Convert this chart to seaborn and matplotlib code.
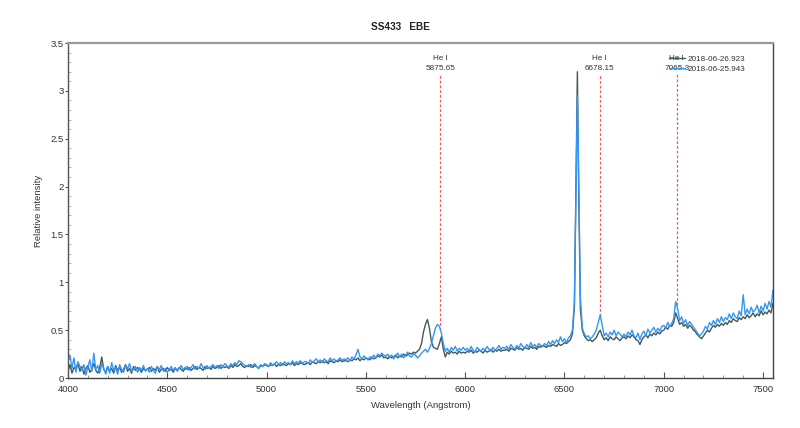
import matplotlib
matplotlib.use("Agg")
import matplotlib.pyplot as plt
import numpy as np
import pandas as pd
import seaborn as sns

# ---------------- data ----------------
wavelength = [
    4000, 4010, 4020, 4030, 4040, 4050, 4060, 4070, 4080, 4090, 4100, 4110, 4120, 4130, 4140, 4150, 4160, 4170, 4180, 4190,
    4200, 4210, 4220, 4230, 4240, 4250, 4260, 4270, 4280, 4290, 4300, 4310, 4320, 4330, 4340, 4350, 4360, 4370, 4380, 4390,
    4400, 4410, 4420, 4430, 4440, 4450, 4460, 4470, 4480, 4490, 4500, 4510, 4520, 4530, 4540, 4550, 4560, 4570, 4580, 4590,
    4600, 4610, 4620, 4630, 4640, 4650, 4660, 4670, 4680, 4690, 4700, 4710, 4720, 4730, 4740, 4750, 4760, 4770, 4780, 4790,
    4800, 4810, 4820, 4830, 4840, 4850, 4860, 4870, 4880, 4890, 4900, 4910, 4920, 4930, 4940, 4950, 4960, 4970, 4980, 4990,
    5000, 5010, 5020, 5030, 5040, 5050, 5060, 5070, 5080, 5090, 5100, 5110, 5120, 5130, 5140, 5150, 5160, 5170, 5180, 5190,
    5200, 5210, 5220, 5230, 5240, 5250, 5260, 5270, 5280, 5290, 5300, 5310, 5320, 5330, 5340, 5350, 5360, 5370, 5380, 5390,
    5400, 5410, 5420, 5430, 5440, 5450, 5460, 5470, 5480, 5490, 5500, 5510, 5520, 5530, 5540, 5550, 5560, 5570, 5580, 5590,
    5600, 5610, 5620, 5630, 5640, 5650, 5660, 5670, 5680, 5690, 5700, 5710, 5720, 5730, 5740, 5750, 5760, 5770, 5780, 5790,
    5800, 5810, 5820, 5830, 5840, 5850, 5860, 5870, 5880, 5890, 5900, 5910, 5920, 5930, 5940, 5950, 5960, 5970, 5980, 5990,
    6000, 6010, 6020, 6030, 6040, 6050, 6060, 6070, 6080, 6090, 6100, 6110, 6120, 6130, 6140, 6150, 6160, 6170, 6180, 6190,
    6200, 6210, 6220, 6230, 6240, 6250, 6260, 6270, 6280, 6290, 6300, 6310, 6320, 6330, 6340, 6350, 6360, 6370, 6380, 6390,
    6400, 6410, 6420, 6430, 6440, 6450, 6460, 6470, 6480, 6490, 6500, 6510, 6520, 6530, 6540, 6550, 6560, 6565, 6570, 6580, 6590,
    6600, 6610, 6620, 6630, 6640, 6650, 6660, 6670, 6680, 6690, 6700, 6710, 6720, 6730, 6740, 6750, 6760, 6770, 6780, 6790,
    6800, 6810, 6820, 6830, 6840, 6850, 6860, 6870, 6880, 6890, 6900, 6910, 6920, 6930, 6940, 6950, 6960, 6970, 6980, 6990,
    7000, 7010, 7020, 7030, 7040, 7050, 7060, 7070, 7080, 7090, 7100, 7110, 7120, 7130, 7140, 7150, 7160, 7170, 7180, 7190,
    7200, 7210, 7220, 7230, 7240, 7250, 7260, 7270, 7280, 7290, 7300, 7310, 7320, 7330, 7340, 7350, 7360, 7370, 7380, 7390,
    7400, 7410, 7420, 7430, 7440, 7450, 7460, 7470, 7480, 7490, 7500, 7510, 7520, 7530, 7540, 7550,
]

flux_2018_06_26 = [
    0.08, 0.14, 0.05, 0.11, 0.09, 0.16, 0.07, 0.12, 0.04, 0.10, 0.13, 0.06, 0.09, 0.15, 0.08, 0.05, 0.11, 0.22, 0.09, 0.06,
    0.12, 0.07, 0.10, 0.05, 0.13, 0.08, 0.11, 0.06, 0.09, 0.14, 0.07, 0.10, 0.05, 0.12, 0.08, 0.11, 0.09, 0.06, 0.10, 0.08,
    0.09, 0.11, 0.07, 0.10, 0.08, 0.12, 0.06, 0.09, 0.10, 0.07, 0.11, 0.08, 0.09, 0.06, 0.10, 0.08, 0.11, 0.09, 0.07, 0.10,
    0.09, 0.11, 0.08, 0.10, 0.12, 0.09, 0.11, 0.10, 0.08, 0.12, 0.10, 0.11, 0.09, 0.12, 0.10, 0.11, 0.13, 0.10, 0.12, 0.11,
    0.12, 0.10, 0.13, 0.11, 0.14, 0.12, 0.13, 0.15, 0.12, 0.11, 0.13, 0.12, 0.14, 0.11, 0.13, 0.12, 0.10, 0.13, 0.12, 0.14,
    0.13, 0.12, 0.14, 0.13, 0.15, 0.12, 0.14, 0.13, 0.15, 0.14, 0.13, 0.15, 0.14, 0.16, 0.13, 0.15, 0.14, 0.16, 0.15, 0.14,
    0.15, 0.16, 0.14, 0.17, 0.16, 0.15, 0.17, 0.16, 0.18, 0.16, 0.17, 0.15, 0.18, 0.17, 0.16, 0.18, 0.17, 0.19, 0.17, 0.18,
    0.18, 0.17, 0.19, 0.18, 0.20, 0.19, 0.21, 0.18, 0.20, 0.19, 0.21, 0.20, 0.19, 0.22, 0.20, 0.21, 0.23, 0.22, 0.24, 0.21,
    0.22, 0.20, 0.23, 0.21, 0.22, 0.24, 0.21, 0.23, 0.22, 0.25, 0.23, 0.24, 0.26, 0.25, 0.27, 0.26, 0.28, 0.30, 0.36, 0.48,
    0.56, 0.61, 0.52, 0.38, 0.32, 0.31, 0.30, 0.36, 0.43, 0.30, 0.22, 0.27, 0.25, 0.28, 0.26, 0.27, 0.25, 0.28, 0.26, 0.27,
    0.26, 0.28, 0.27, 0.29, 0.26, 0.28, 0.27, 0.29, 0.28, 0.26, 0.29, 0.27, 0.28, 0.30, 0.27, 0.29, 0.28, 0.30, 0.28, 0.29,
    0.29, 0.30, 0.28, 0.31, 0.30, 0.29, 0.32, 0.30, 0.31, 0.29, 0.32, 0.31, 0.30, 0.33, 0.31, 0.32, 0.30, 0.33, 0.32, 0.34,
    0.33, 0.32, 0.34, 0.33, 0.35, 0.34, 0.33, 0.36, 0.34, 0.35, 0.37, 0.36, 0.38, 0.40, 0.46, 0.75, 2.40, 3.20, 2.20, 0.72, 0.50,
    0.44, 0.41, 0.39, 0.40, 0.38, 0.40, 0.42, 0.47, 0.50, 0.44, 0.40, 0.42, 0.39, 0.43, 0.41, 0.40, 0.43, 0.41, 0.39, 0.42,
    0.43, 0.41, 0.44, 0.42, 0.45, 0.43, 0.40, 0.39, 0.35, 0.40, 0.43, 0.45, 0.42, 0.46, 0.44, 0.47, 0.45, 0.48, 0.46, 0.49,
    0.50, 0.53, 0.51, 0.55, 0.54, 0.58, 0.68, 0.62, 0.56, 0.58, 0.54, 0.56, 0.52, 0.55, 0.53, 0.50, 0.48, 0.45, 0.43, 0.41,
    0.44, 0.47, 0.50, 0.48, 0.52, 0.55, 0.53, 0.56, 0.54, 0.57, 0.55, 0.58, 0.56, 0.60, 0.58, 0.62, 0.60, 0.59, 0.63, 0.61,
    0.64, 0.62, 0.66, 0.63, 0.65, 0.68, 0.64, 0.67, 0.65, 0.70, 0.66, 0.69, 0.67, 0.71, 0.68, 0.78,
]

flux_2018_06_25 = [
    0.18, 0.24, 0.10, 0.21, 0.06, 0.17, 0.12, 0.08, 0.14, 0.03, 0.11, 0.19, 0.07, 0.26, 0.09, 0.13, 0.05, 0.15, 0.10, 0.04,
    0.12, 0.05, 0.16, 0.08, 0.11, 0.04, 0.14, 0.09, 0.06, 0.13, 0.10, 0.15, 0.07, 0.09, 0.12, 0.06, 0.11, 0.08, 0.13, 0.07,
    0.10, 0.06, 0.12, 0.08, 0.05, 0.11, 0.09, 0.13, 0.07, 0.10, 0.06, 0.09, 0.12, 0.08, 0.11, 0.07, 0.10, 0.13, 0.09, 0.11,
    0.12, 0.08, 0.11, 0.14, 0.09, 0.12, 0.10, 0.15, 0.11, 0.09, 0.13, 0.10, 0.12, 0.14, 0.11, 0.13, 0.10, 0.14, 0.12, 0.15,
    0.13, 0.11, 0.15, 0.13, 0.16, 0.14, 0.18, 0.17, 0.15, 0.13, 0.12, 0.14, 0.11, 0.13, 0.15, 0.12, 0.10, 0.14, 0.12, 0.15,
    0.14, 0.12, 0.16, 0.13, 0.15, 0.17, 0.14, 0.16, 0.13, 0.17, 0.15, 0.16, 0.14, 0.18, 0.15, 0.17, 0.16, 0.18, 0.15, 0.17,
    0.17, 0.15, 0.19, 0.16, 0.18, 0.20, 0.17, 0.19, 0.16, 0.20, 0.18, 0.17, 0.21, 0.18, 0.20, 0.17, 0.19, 0.21, 0.18, 0.20,
    0.19, 0.21, 0.18, 0.22, 0.20, 0.24, 0.30, 0.22, 0.20, 0.23, 0.21, 0.19, 0.22, 0.20, 0.24, 0.21, 0.25, 0.23, 0.26, 0.24,
    0.23, 0.25, 0.21, 0.24, 0.20, 0.23, 0.26, 0.22, 0.25, 0.21, 0.24, 0.27, 0.23, 0.22, 0.25, 0.24, 0.21, 0.23, 0.26, 0.28,
    0.30, 0.27, 0.31, 0.36, 0.44, 0.52, 0.56, 0.54, 0.47, 0.36, 0.28, 0.31, 0.27, 0.32, 0.29, 0.33, 0.28, 0.31, 0.29, 0.32,
    0.29, 0.31, 0.28, 0.33, 0.29, 0.27, 0.32, 0.30, 0.28, 0.31, 0.29, 0.33, 0.30, 0.28, 0.32, 0.29, 0.31, 0.34, 0.30, 0.32,
    0.31, 0.33, 0.30, 0.35, 0.32, 0.30, 0.34, 0.31, 0.36, 0.33, 0.31, 0.35, 0.32, 0.37, 0.33, 0.35, 0.32, 0.36, 0.34, 0.33,
    0.36, 0.34, 0.38, 0.35, 0.39, 0.36, 0.40, 0.37, 0.43, 0.38, 0.41, 0.37, 0.42, 0.44, 0.50, 0.80, 2.20, 2.95, 2.35, 0.85, 0.52,
    0.46, 0.43, 0.44, 0.41, 0.43, 0.46, 0.50, 0.58, 0.66, 0.55, 0.44, 0.47, 0.43, 0.48, 0.45, 0.50, 0.44, 0.48, 0.46, 0.43,
    0.46, 0.43, 0.48, 0.45, 0.50, 0.44, 0.42, 0.47, 0.40, 0.46, 0.49, 0.44, 0.51, 0.47, 0.50, 0.53, 0.48, 0.52, 0.49, 0.54,
    0.55, 0.52, 0.58, 0.54, 0.57, 0.62, 0.80, 0.72, 0.60, 0.64, 0.57, 0.61, 0.55, 0.59, 0.56, 0.53, 0.50, 0.47, 0.44, 0.46,
    0.49, 0.54, 0.51, 0.58, 0.55, 0.60, 0.56, 0.62, 0.58, 0.64, 0.59, 0.63, 0.61, 0.67, 0.62, 0.68, 0.64, 0.62, 0.70, 0.65,
    0.87, 0.66, 0.72, 0.67, 0.74, 0.69, 0.71, 0.76, 0.68, 0.75, 0.70, 0.78, 0.72, 0.80, 0.74, 0.92,
]

series_labels = ["2018-06-26.923", "2018-06-25.943"]
line_names = ["He I", "He I", "He I"]
line_wavelengths = [5875.65, 6678.15, 7065.3]
line_value_labels = ["5875.65", "6678.15", "7065.3"]

title = "SS433   EBE"
x_label = "Wavelength (Angstrom)"
y_label = "Relative intensity"

# ---------------- plot ----------------
sns.set_theme(style="white")
plt.rcParams["font.family"] = ["Liberation Sans", "DejaVu Sans"]

df = pd.concat([
    pd.DataFrame({"wl": wavelength, "flux": flux_2018_06_26, "date": series_labels[0]}),
    pd.DataFrame({"wl": wavelength, "flux": flux_2018_06_25, "date": series_labels[1]}),
], ignore_index=True)

fig = plt.figure(figsize=(8.0, 4.28), dpi=100)
ax = fig.add_axes([68 / 800, 1 - 378 / 428, 705 / 800, 335 / 428])

palette = {series_labels[0]: "#44595a", series_labels[1]: "#3397f5"}
sns.lineplot(data=df, x="wl", y="flux", hue="date", hue_order=series_labels,
             palette=palette, estimator=None, sort=False, linewidth=1.0, ax=ax)

ax.set_xlim(4000, 7550)
ax.set_ylim(0, 3.5)

# identification lines
wl_arr = np.array(wavelength, dtype=float)
top = np.maximum(np.array(flux_2018_06_26), np.array(flux_2018_06_25))
for name, lw_, lab in zip(line_names, line_wavelengths, line_value_labels):
    ymin = float(np.interp(lw_, wl_arr, top))
    ax.plot([lw_, lw_], [ymin, 3.18], color="#f05a5a", lw=0.9,
            dashes=(2.2, 1.6), zorder=1)
    ax.text(lw_, 3.34, name, ha="center", va="center", fontsize=5.9, color="#333333")
    ax.text(lw_, 3.235, lab, ha="center", va="center", fontsize=5.9, color="#333333")

# ticks
ax.set_xticks([4000, 4500, 5000, 5500, 6000, 6500, 7000, 7500])
ax.set_xticks(np.arange(4000, 7551, 100), minor=True)
ax.set_yticks([0, 0.5, 1, 1.5, 2, 2.5, 3, 3.5])
ax.set_yticks(np.arange(0, 3.51, 0.1), minor=True)
ax.set_xticklabels(["4000", "4500", "5000", "5500", "6000", "6500", "7000", "7500"])
ax.set_yticklabels(["0", "0.5", "1", "1.5", "2", "2.5", "3", "3.5"])
ax.tick_params(axis="x", which="major", direction="in", length=4, width=0.8,
               color="#555555", labelsize=6.8, labelcolor="#333333", pad=5, bottom=True)
ax.tick_params(axis="x", which="minor", direction="in", length=2, width=0.6,
               color="#888888", bottom=True)
ax.tick_params(axis="y", which="major", direction="out", length=2, width=0.8,
               color="#555555", labelsize=6.8, labelcolor="#333333", pad=1.2, left=True)
ax.tick_params(axis="y", which="minor", direction="in", length=2, width=0.6,
               color="#aaaaaa", left=True)

for side, col, w in [("top", "#999999", 1.6), ("left", "#555555", 1.0),
                     ("right", "#444444", 1.0), ("bottom", "#444444", 1.0)]:
    ax.spines[side].set_visible(True)
    ax.spines[side].set_color(col)
    ax.spines[side].set_linewidth(w)

ax.set_xlabel(x_label, fontsize=6.8, color="#333333", labelpad=5)
ax.set_ylabel(y_label, fontsize=6.8, color="#333333", labelpad=5)
fig.suptitle(title, x=0.5, y=1 - 27 / 428, va="center", fontsize=7.2,
             fontweight="bold", color="#222222")

leg = ax.legend(loc="upper left", bbox_to_anchor=((669 - 68) / 705, (378 - 55) / 335),
                frameon=False, fontsize=5.9, handlelength=1.9, handletextpad=0.35,
                labelspacing=0.3, borderaxespad=0.0, borderpad=0.0)
for t in leg.get_texts():
    t.set_color("#333333")

fig.savefig("out.png", dpi=100)
